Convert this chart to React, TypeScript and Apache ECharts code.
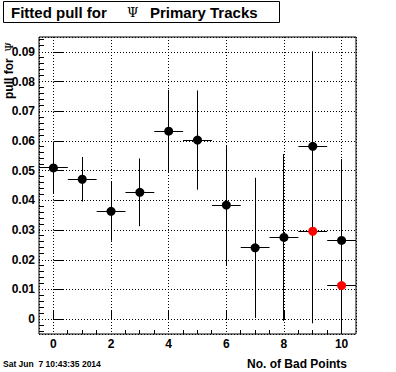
import React, { useEffect, useRef } from "react";
import * as echarts from "echarts";

const xValues = [0, 1, 2, 3, 4, 5, 6, 7, 8, 9, 10];
const pullValues = [0.0509, 0.0471, 0.0363, 0.0427, 0.0633, 0.0603, 0.0384, 0.024, 0.0275, 0.0582, 0.0265];
const pullErrors = [0.0086, 0.0075, 0.0099, 0.0114, 0.0139, 0.0167, 0.0202, 0.0236, 0.0281, 0.032, 0.0274];
const redX = [9, 10];
const redValues = [0.0296, 0.0113];
const redErrors = [0.031, 0.018];
const xMinorTicks = [0.5, 1, 1.5, 2.5, 3, 3.5, 4.5, 5, 5.5, 6.5, 7, 7.5, 8.5, 9, 9.5];
const yMinorTicks = [
  -0.004, -0.002, 0.002, 0.004, 0.006, 0.008, 0.012, 0.014, 0.016, 0.018,
  0.022, 0.024, 0.026, 0.028, 0.032, 0.034, 0.036, 0.038, 0.042, 0.044,
  0.046, 0.048, 0.052, 0.054, 0.056, 0.058, 0.062, 0.064, 0.066, 0.068,
  0.072, 0.074, 0.076, 0.078, 0.082, 0.084, 0.086, 0.088, 0.092, 0.094,
];
const titleText = "Fitted pull for";
const titleSymbol = "\u03A8";
const titleRest = "Primary Tracks";
const xTitle = "No. of Bad Points";
const yTitle = "pull for";
const dateText = "Sat Jun  7 10:43:35 2014";

const X_MIN = -0.5;
const X_MAX = 10.5;
const Y_MIN = -0.005;
const Y_MAX = 0.095;
const FONT = "'Liberation Sans', Arial, Helvetica, sans-serif";

const snap = (v: number) => Math.round(v - 0.5) + 0.5;

export default function App() {
  const ref = useRef<HTMLDivElement>(null);
  useEffect(() => {
    if (!ref.current) return;
    const chart = echarts.init(ref.current, undefined, { renderer: "svg" });

    const errorRender = (params: any, api: any) => {
      const x = api.value(0);
      const y = api.value(1);
      const e = api.value(2);
      const c = api.coord([x, y]);
      const l = api.coord([x - 0.5, y]);
      const r = api.coord([x + 0.5, y]);
      const t = api.coord([x, y + e]);
      const b = api.coord([x, y - e]);
      const st = { stroke: "#000", lineWidth: 1 };
      return {
        type: "group",
        children: [
          { type: "line", shape: { x1: l[0], y1: snap(c[1]), x2: r[0], y2: snap(c[1]) }, style: st },
          { type: "line", shape: { x1: snap(c[0]), y1: t[1], x2: snap(c[0]), y2: b[1] }, style: st },
        ],
      };
    };

    const option: any = {
      animation: false,
      backgroundColor: "#fff",
      grid: {
        left: 39,
        top: 37,
        right: 40,
        bottom: 38,
        show: true,
        borderColor: "#000",
        borderWidth: 1,
        backgroundColor: "#fff",
      },
      xAxis: {
        type: "value",
        min: X_MIN,
        max: X_MAX,
        splitNumber: 5,
        axisLine: { show: false },
        axisTick: { show: true, inside: true, length: 9, lineStyle: { color: "#000", width: 1 } },
        axisLabel: {
          show: true,
          showMinLabel: false,
          showMaxLabel: false,
          color: "#000",
          fontFamily: FONT,
          fontWeight: "bold",
          fontSize: 12,
          margin: 4,
          formatter: (v: number) => (Number.isInteger(v) ? String(v) : ""),
        },
        splitLine: { show: true, lineStyle: { color: "#000", width: 1, type: [1, 2] } },
      },
      yAxis: {
        type: "value",
        min: Y_MIN,
        max: Y_MAX,
        splitNumber: 10,
        axisLine: { show: false },
        axisTick: { show: true, inside: true, length: 10, lineStyle: { color: "#000", width: 1 } },
        axisLabel: {
          show: true,
          showMinLabel: false,
          showMaxLabel: false,
          color: "#000",
          fontFamily: FONT,
          fontWeight: "bold",
          fontSize: 12,
          margin: 4,
          formatter: (v: number) => (Math.abs(v) < 1e-9 ? "0" : v.toFixed(2)),
        },
        splitLine: { show: true, lineStyle: { color: "#000", width: 1, type: [1, 2] } },
      },
      series: [
        {
          type: "custom",
          name: "xMinor",
          silent: true,
          data: xMinorTicks.map((v) => [v, Y_MIN]),
          encode: { x: 0, y: 1 },
          renderItem: (params: any, api: any) => {
            const p = api.coord([api.value(0), api.value(1)]);
            return {
              type: "line",
              shape: { x1: snap(p[0]), y1: p[1], x2: snap(p[0]), y2: p[1] - 4 },
              style: { stroke: "#000", lineWidth: 1 },
            };
          },
          z: 1,
        },
        {
          type: "custom",
          name: "yMinor",
          silent: true,
          data: yMinorTicks.map((v) => [X_MIN, v]),
          encode: { x: 0, y: 1 },
          renderItem: (params: any, api: any) => {
            const p = api.coord([api.value(0), api.value(1)]);
            return {
              type: "line",
              shape: { x1: p[0], y1: snap(p[1]), x2: p[0] + 5, y2: snap(p[1]) },
              style: { stroke: "#000", lineWidth: 1 },
            };
          },
          z: 1,
        },
        {
          type: "custom",
          name: "errors",
          clip: true,
          silent: true,
          data: xValues.map((x, i) => [x, pullValues[i], pullErrors[i]]),
          encode: { x: 0, y: 1 },
          renderItem: errorRender,
          z: 2,
        },
        {
          type: "custom",
          name: "redErrors",
          clip: true,
          silent: true,
          data: redX.map((x, i) => [x, redValues[i], redErrors[i]]),
          encode: { x: 0, y: 1 },
          renderItem: errorRender,
          z: 2,
        },
        {
          type: "scatter",
          name: "pull",
          symbol: "circle",
          symbolSize: 9,
          itemStyle: { color: "#000", opacity: 1 },
          data: xValues.map((x, i) => [x, pullValues[i]]),
          z: 3,
        },
        {
          type: "scatter",
          name: "pullRed",
          symbol: "circle",
          symbolSize: 9,
          itemStyle: { color: "#ff0000", opacity: 1 },
          data: redX.map((x, i) => [x, redValues[i]]),
          z: 4,
        },
      ],
      graphic: [
        {
          type: "rect",
          shape: { x: 3.5, y: 1.5, width: 276, height: 21 },
          style: { fill: "#fff", stroke: "#000", lineWidth: 1 },
          z: 10,
        },
        {
          type: "text",
          x: 11,
          y: 12.5,
          style: {
            text: titleText,
            fontFamily: FONT,
            fontWeight: "bold",
            fontSize: 15,
            fill: "#000",
            verticalAlign: "middle",
            align: "left",
          },
          z: 11,
        },
        {
          type: "text",
          x: 127,
          y: 12.5,
          style: {
            text: titleSymbol,
            fontFamily: "'DejaVu Serif', serif",
            fontSize: 13,
            fill: "#000",
            verticalAlign: "middle",
            align: "left",
          },
          z: 11,
        },
        {
          type: "text",
          x: 150,
          y: 12.5,
          style: {
            text: titleRest,
            fontFamily: FONT,
            fontWeight: "bold",
            fontSize: 15,
            fill: "#000",
            verticalAlign: "middle",
            align: "left",
          },
          z: 11,
        },
        {
          type: "text",
          x: 347,
          y: 364,
          style: {
            text: xTitle,
            fontFamily: FONT,
            fontWeight: "bold",
            fontSize: 12,
            fill: "#000",
            verticalAlign: "middle",
            align: "right",
          },
          z: 11,
        },
        {
          type: "text",
          x: 15,
          y: 42,
          rotation: Math.PI / 2,
          style: {
            text: "{a|" + yTitle + "  }{p|" + titleSymbol + "}",
            rich: {
              a: { fontFamily: FONT, fontWeight: "bold", fontSize: 12, fill: "#000" },
              p: { fontFamily: "'DejaVu Serif', serif", fontSize: 11, fill: "#000" },
            },
            verticalAlign: "bottom",
            align: "right",
          },
          z: 11,
        },
        {
          type: "text",
          x: 3,
          y: 364,
          style: {
            text: dateText,
            fontFamily: FONT,
            fontWeight: "bold",
            fontSize: 8.5,
            fill: "#000",
            verticalAlign: "middle",
            align: "left",
          },
          z: 11,
        },
      ],
    };
    chart.setOption(option);
    return () => chart.dispose();
  }, []);
  return (
    <div
      ref={ref}
      style={{ position: "fixed", left: 0, top: 0, width: 396, height: 372, background: "#fff" }}
    />
  );
}
